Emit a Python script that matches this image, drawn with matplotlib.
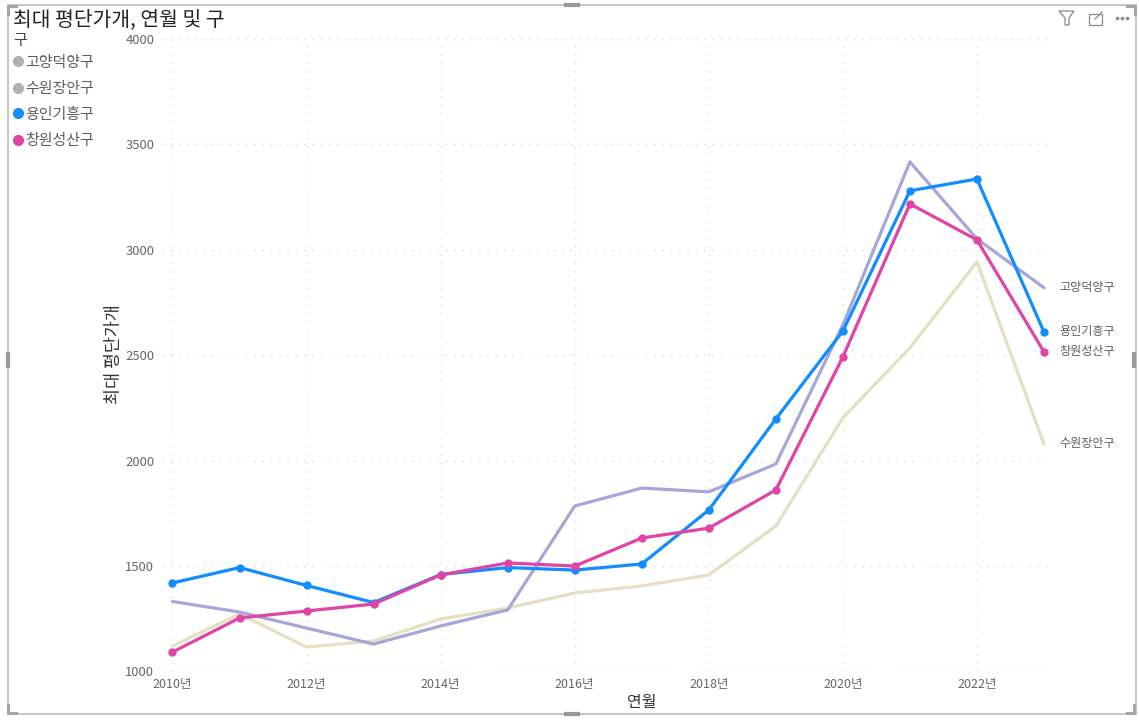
import matplotlib
matplotlib.use('Agg')
import matplotlib.pyplot as plt
from matplotlib.lines import Line2D
from matplotlib.patches import Rectangle, Polygon

plt.rcParams['font.family'] = ['Noto Sans CJK KR', 'DejaVu Sans']

W, H = 1139, 722

years = list(range(2010, 2024))
goyang = [1332, 1282, 1206, 1130, 1216, 1292, 1785, 1870, 1852, 1984, 2644, 3417, 3052, 2820]
suwon = [1121, 1273, 1116, 1145, 1249, 1301, 1372, 1406, 1458, 1690, 2203, 2535, 2943, 2079]
yongin = [1420, 1493, 1408, 1327, 1460, 1493, 1481, 1510, 1766, 2198, 2615, 3280, 3336, 2610]
changwon = [1092, 1254, 1287, 1320, 1458, 1515, 1500, 1633, 1680, 1861, 2492, 3218, 3047, 2516]

legend_names = ['고양덕양구', '수원장안구', '용인기흥구', '창원성산구']
legend_colors = ['#b3b0ad', '#b3b0ad', '#118dff', '#e044a7']
x_ticks = [2010, 2012, 2014, 2016, 2018, 2020, 2022]
y_ticks = [1000, 1500, 2000, 2500, 3000, 3500, 4000]


def fx(px):
    return px / W


def fy(py):
    return 1 - py / H


fig = plt.figure(figsize=(W / 100, H / 100), dpi=100)
ax = fig.add_axes([fx(162), fy(671.5), (1052 - 162) / W, (671.5 - 39) / H])

# faded series first, highlighted ones on top
ax.plot(years, suwon, color='#e6dfc0', lw=2.3, solid_capstyle='round')
ax.plot(years, goyang, color='#a6a6db', lw=2.3, solid_capstyle='round')
ax.plot(years, yongin, color='#118dff', lw=2.3, marker='o', ms=5)
ax.plot(years, changwon, color='#e044a7', lw=2.3, marker='o', ms=5)

ax.set_xlim(2010 - 10.5 / 67.04, 2023 + 8 / 67.04)
ax.set_ylim(1000, 4000)
ax.set_xticks(x_ticks)
ax.set_xticklabels([f'{y}년' for y in x_ticks])
ax.set_yticks(y_ticks)
ax.grid(True, color='#d8d8d8', lw=1, ls=(0, (1, 5)))
ax.set_axisbelow(True)
ax.tick_params(length=0, labelcolor='#666666')
ax.tick_params(axis='x', pad=4.5, labelsize=9)
ax.tick_params(axis='y', pad=5.5, labelsize=9.4)
for s in ax.spines.values():
    s.set_visible(False)

fig.text(fx(642), fy(702), '연월', fontsize=11.5, color='#333333', ha='center', va='center')
fig.text(fx(114), fy(354), '최대 평단가개', fontsize=12.5, color='#333333', rotation=90,
         ha='center', va='center')
fig.text(fx(13), fy(20), '최대 평단가개, 연월 및 구', fontsize=14.7, color='#252423', va='center')

# legend on the left
fig.text(fx(13), fy(41), '구', fontsize=10.8, color='#444444', va='center')
for name, color, py in zip(legend_names, legend_colors, [61, 88, 113, 140]):
    fig.add_artist(Line2D([fx(18)], [fy(py)], marker='o', ms=7, color=color, ls='none'))
    fig.text(fx(25), fy(py + 1.5), name, fontsize=10.8, color='#605e5c', va='center')

# end-of-line labels
for name, py in [('고양덕양구', 287.5), ('용인기흥구', 331.5), ('창원성산구', 351.5), ('수원장안구', 443.5)]:
    fig.text(fx(1059), fy(py), name, fontsize=8.7, color='#605e5c', va='center')

# visual frame and resize handles
fig.add_artist(Rectangle((fx(7.5), fy(714)), (1135.5 - 7.5) / W, (714 - 5) / H, fill=False,
                         ec='#c2c2c2', lw=1.3, transform=fig.transFigure))
for x0, y0, x1, y1 in [(566, 5, 578, 5), (566, 714, 578, 714), (8, 354, 8, 366), (1134, 354, 1134, 366)]:
    fig.add_artist(Line2D([fx(x0), fx(x1)], [fy(y0), fy(y1)], color='#9a9a9a', lw=3))
for xs, ys in [([8, 8, 16], [14, 6, 6]), ([8, 8, 16], [705, 713, 713]),
               ([1127, 1135, 1135], [6, 6, 14]), ([1127, 1134, 1134], [713, 713, 705])]:
    fig.add_artist(Line2D([fx(v) for v in xs], [fy(v) for v in ys], color='#a6a6a6', lw=2.2))

# header icons
funnel = [(1059, 11), (1074, 11), (1069, 18), (1069, 25), (1065, 25), (1065, 18)]
fig.add_artist(Polygon([(fx(a), fy(b)) for a, b in funnel], fill=False, ec='#8a8a8a', lw=0.9,
                       transform=fig.transFigure))
fig.add_artist(Rectangle((fx(1088.5), fy(24.5)), 13 / W, 11 / H, fill=False, ec='#8a8a8a', lw=0.9,
                         transform=fig.transFigure))
fig.add_artist(Line2D([fx(1095), fx(1102)], [fy(19), fy(12)], color='#8a8a8a', lw=0.9))
for px in [1117, 1122, 1127]:
    fig.add_artist(Line2D([fx(px)], [fy(18)], marker='o', ms=1.6, color='#8a8a8a', ls='none'))

fig.savefig('out.png', dpi=100)
